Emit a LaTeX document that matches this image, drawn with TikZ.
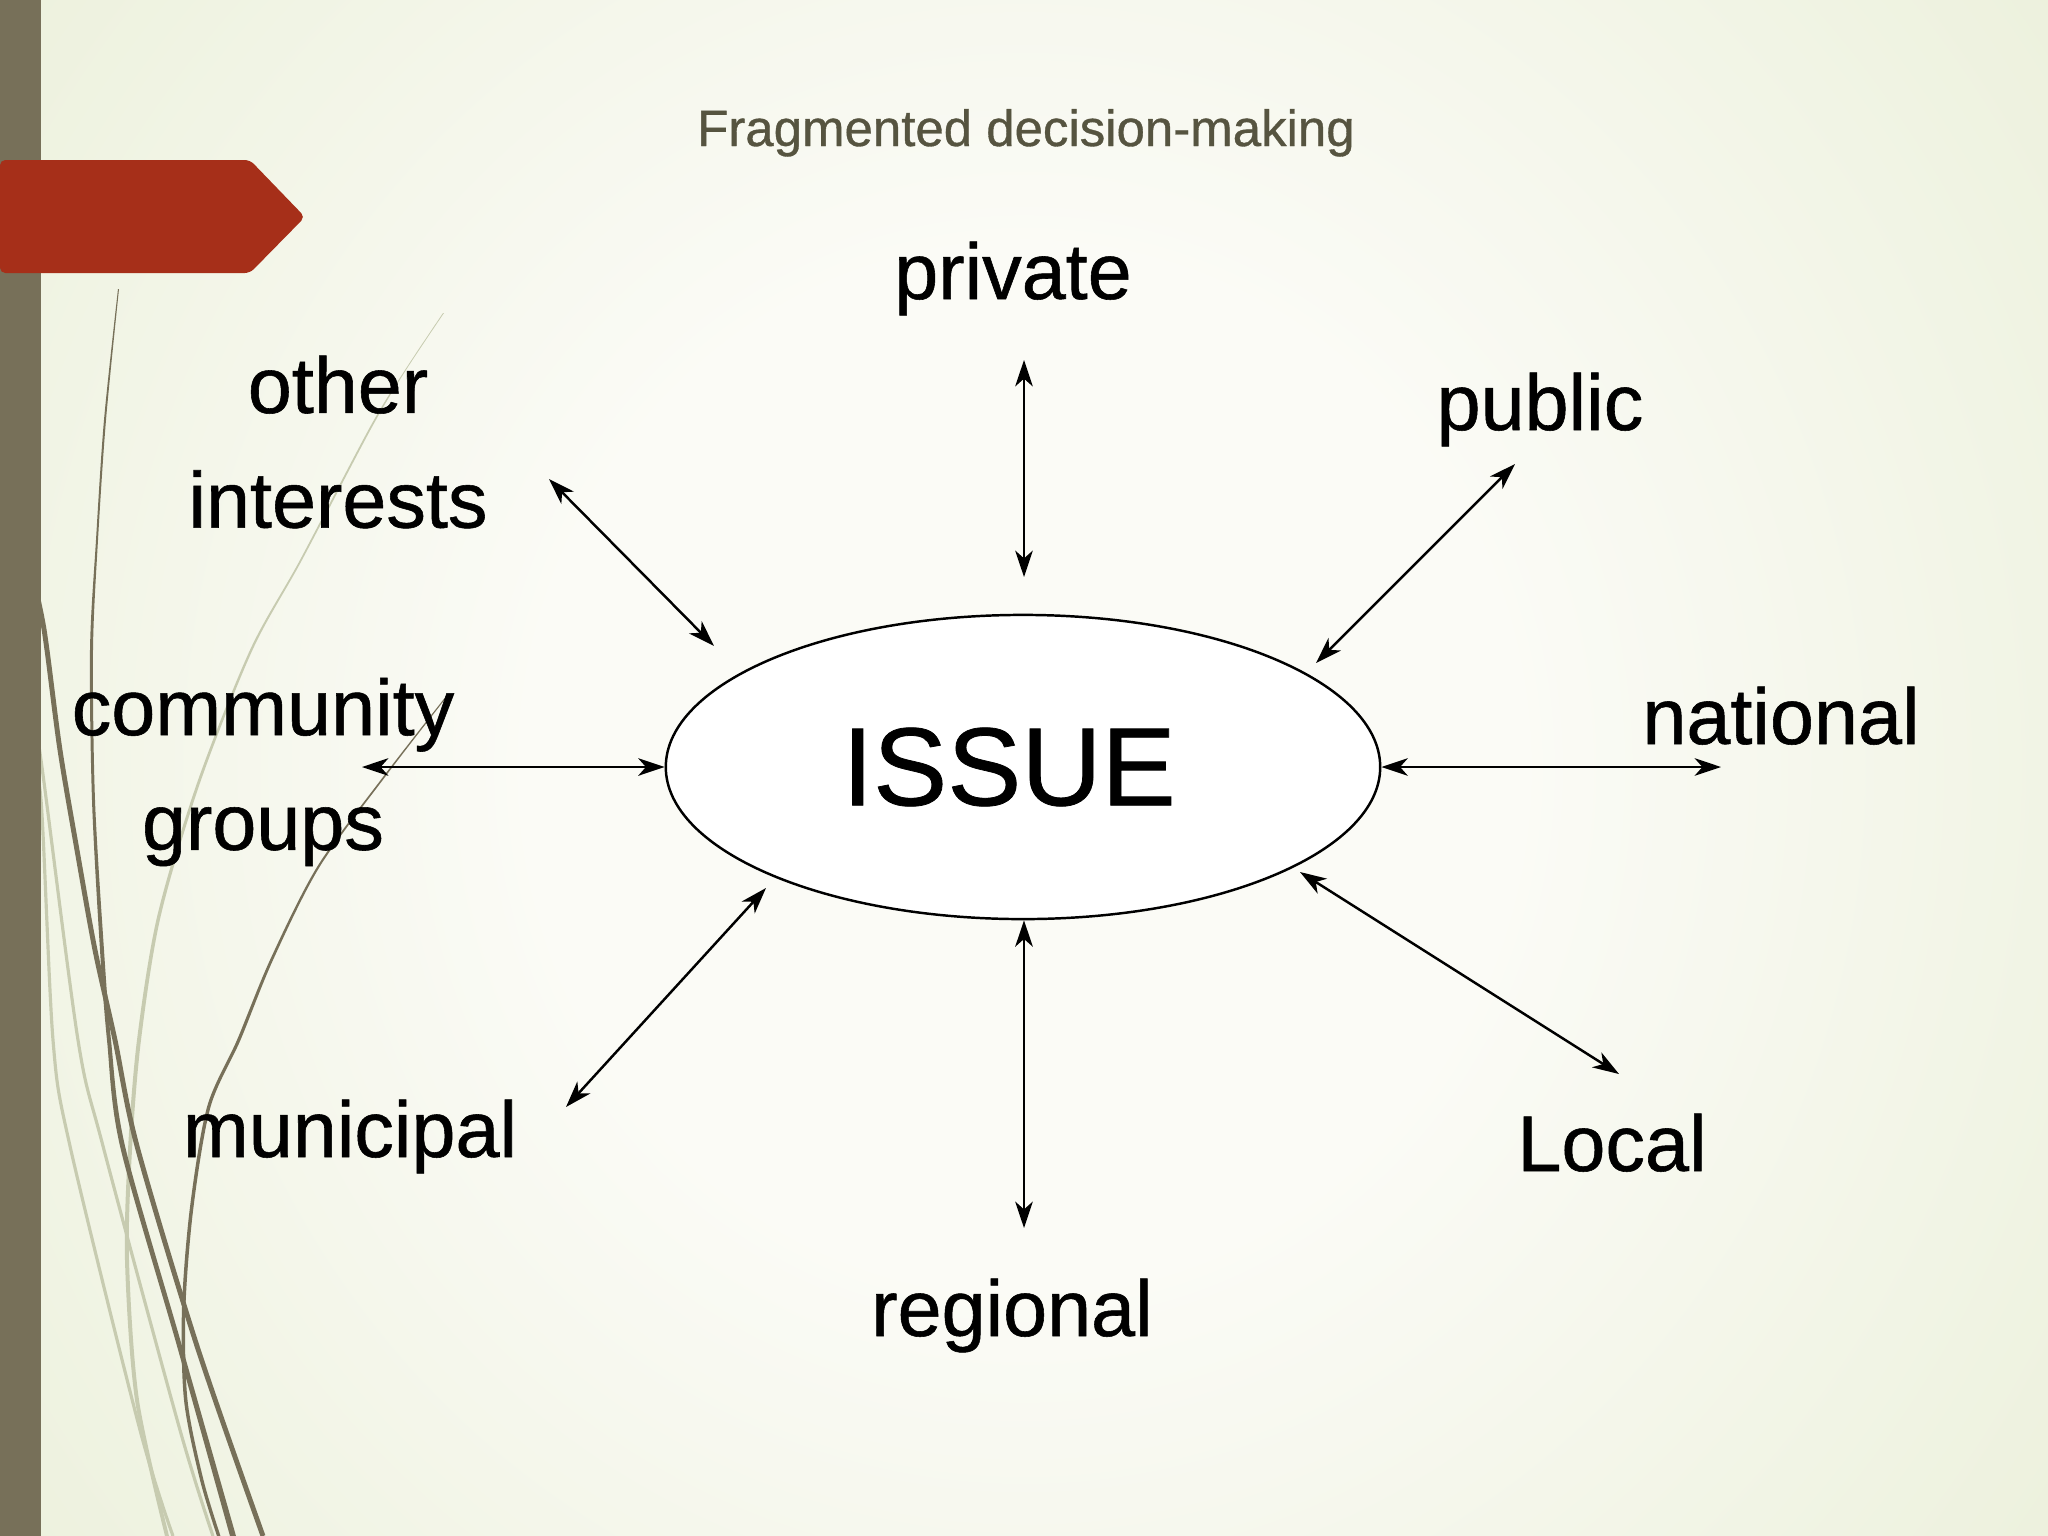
\documentclass[tikz,border=0pt]{standalone}
\usepackage{fontspec}
\setmainfont{Liberation Sans}
\newfontfamily\slidefont{Liberation Sans}[FakeBold=0.7]
\usetikzlibrary{shapes,arrows.meta,positioning}

\definecolor{slidegreen}{RGB}{222,231,196}
\definecolor{slidewhite}{RGB}{251,251,246}
\definecolor{wispdark}{RGB}{119,112,89}
\definecolor{wisplight}{RGB}{199,203,176}
\definecolor{tabred}{RGB}{166,47,25}
\definecolor{titlegray}{RGB}{86,84,64}

\pgfdeclareradialshading{slidebg}{\pgfpointorigin}{color(0bp)=(slidewhite); color(12bp)=(slidewhite); color(50bp)=(slidegreen); color(75bp)=(slidegreen)}

\tikzset{
  actor/.style={font=\slidefont\fontsize{22.5}{32.6}\selectfont, align=center, inner sep=0pt},
  twoway/.style={<->, >={Stealth[length=7.5pt,width=5pt,inset=2.2pt]}, line width=0.7pt},
}

\begin{document}
\begin{tikzpicture}[x=0.01cm, y=-0.01cm]
    \useasboundingbox (0,0) rectangle (2048,1536);
    % background
    \begin{scope}
        \clip (0,0) rectangle (2048,1536);
        \shade[shading=slidebg] (0,-300) rectangle (2048,1836);
    \end{scope}
    % wisps on the left
    \fill[wisplight] plot[smooth] coordinates {(443,313) (405,370) (370,427) (300,560) (250,650) (197,783) (157,917) (137,1040) (128,1150) (125,1260) (135,1400) (165,1536)}
        -- plot[smooth] coordinates {(169,1536) (139,1400) (129,1260) (132,1150) (141,1040) (160.5,917) (200,783) (252.5,650) (302,560) (372,427) (406,370) (444,313)} -- cycle;
    \draw[wisplight, line width=0.9pt] plot[smooth] coordinates {(30,760) (41,800) (53,1040) (70,1146) (140,1430) (173,1536)};
    \draw[wisplight, line width=0.9pt] plot[smooth] coordinates {(30,700) (41,760) (78,1040) (103,1146) (180,1430) (213,1536)};
    \fill[wispdark] plot[smooth] coordinates {(118,289) (104,420) (96,540) (90,650) (92,800) (100,950) (107,1040) (120,1146) (177,1346) (230,1536)}
        -- plot[smooth] coordinates {(236,1536) (182,1346) (125,1146) (111,1040) (104,950) (95,800) (93,650) (98,540) (106,420) (119,289)} -- cycle;
    \draw[wispdark, line width=1.4pt] plot[smooth] coordinates {(25,540) (41,613) (47,650) (60,750) (77,850) (95,950) (115,1040) (137,1146) (197,1346) (263,1536)};
    \fill[wispdark] plot[smooth] coordinates {(447,695) (383,777) (317,867) (270,960) (237,1040) (207,1107) (190,1207) (182,1307) (184,1400) (200,1480) (217,1536)}
        -- plot[smooth] coordinates {(220.5,1536) (203.5,1480) (187.5,1400) (185.5,1307) (193.5,1207) (210.5,1107) (240.5,1040) (273,960) (319.5,867) (385,777) (448.3,695)} -- cycle;
    % bar and tab
    \fill[wispdark] (0,0) rectangle (41,1536);
    \fill[tabred, rounded corners=1.5pt] (0,160) -- (250,160) -- (305,217) -- (250,273) -- (0,273) -- cycle;

    % title
    \node[font=\slidefont\fontsize{14.5}{17}\selectfont, text=titlegray, anchor=base] (title) at (1026,146) {Fragmented decision-making};

    % the issue and who decides on it
    \node[ellipse, draw, fill=white, line width=0.7pt, minimum width=7.14cm, minimum height=3.04cm, inner sep=0pt, font=\slidefont\fontsize{31.6}{38}\selectfont] (issue) at (1023,767) {ISSUE\kern0.28cm};
    \node[actor, anchor=base] (private) at (1013,299) {private};
    \node[actor, anchor=base] (public) at (1540,430) {public};
    \node[actor] (other) at (338,442) {other\\interests};
    \node[actor] (community) at (263,772) {community\\groups};
    \node[actor, anchor=base] (national) at (1781,744) {national};
    \node[actor, anchor=base] (municipal) at (350,1157) {municipal};
    \node[actor, anchor=base] (local) at (1612,1171) {Local};
    \node[actor, anchor=base] (regional) at (1012,1336) {regional};

    % arrow ends
    \coordinate (privatetip) at (1024,360);
    \coordinate (privatein) at (1024,577);
    \coordinate (publictip) at (1515,464);
    \coordinate (publicin) at (1316,663);
    \coordinate (othertip) at (549,479);
    \coordinate (otherin) at (714,646);
    \coordinate (communitytip) at (362,767);
    \coordinate (nationaltip) at (1721,767);
    \coordinate (municipaltip) at (566,1107);
    \coordinate (municipalin) at (766,888);
    \coordinate (regionaltip) at (1024,1228);
    \coordinate (localtip) at (1619,1074);
    \coordinate (localin) at (1300,872);

    \draw[twoway] (privatetip) -- (privatein);
    \draw[twoway] (publictip) -- (publicin);
    \draw[twoway] (othertip) -- (otherin);
    \draw[twoway] (communitytip) -- (issue.west);
    \draw[twoway] (issue.east) -- (nationaltip);
    \draw[twoway] (municipaltip) -- (municipalin);
    \draw[twoway] (issue.south -| regionaltip) -- (regionaltip);
    \draw[twoway] (localin) -- (localtip);
\end{tikzpicture}
\end{document}
